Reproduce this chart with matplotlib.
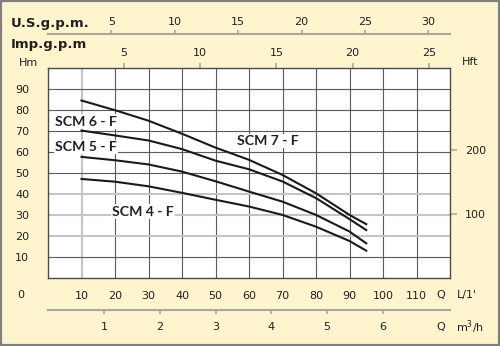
import matplotlib

matplotlib.use("Agg")
import matplotlib.pyplot as plt
from matplotlib.patches import Rectangle

# flow Q in L/min and head H in m
Q = [10, 20, 30, 40, 50, 60, 70, 80, 90, 95]
H_SCM7 = [84.4, 79.8, 74.8, 68.6, 62.0, 56.2, 49.0, 40.3, 30.0, 25.6]
H_SCM6 = [70.1, 67.8, 65.4, 61.3, 55.8, 51.7, 45.9, 38.0, 28.0, 22.8]
H_SCM5 = [57.6, 56.0, 54.0, 50.6, 46.0, 41.1, 36.3, 30.0, 22.1, 16.5]
H_SCM4 = [47.1, 45.8, 43.6, 40.5, 37.2, 34.0, 30.0, 24.4, 17.6, 13.0]

CURVES = [H_SCM7, H_SCM6, H_SCM5, H_SCM4]
LABELS = ["SCM 7 - F", "SCM 6 - F", "SCM 5 - F", "SCM 4 - F"]
LABEL_POS = [(56.3, 65.2), (2.1, 74.4), (2.2, 62.2), (19.0, 31.6)]

X_GRID = [10, 20, 30, 40, 50, 60, 70, 80, 90, 100, 110]
Y_GRID = [10, 20, 30, 40, 50, 60, 70, 80, 90]
LIGHT_X = [10]
LIGHT_Y = [20, 30, 40]

US_GPM = [5, 10, 15, 20, 25, 30]
IMP_GPM = [5, 10, 15, 20, 25]
M3H = [1, 2, 3, 4, 5, 6]
HFT = [100, 200]

BG = "#fef5cf"
INK = "#231f20"
NUM = dict(family=["Liberation Sans Narrow", "DejaVu Sans"], fontsize=8, color=INK)
HEAD = dict(family="DejaVu Sans", fontweight="bold", fontsize=9.5, color=INK)

fig = plt.figure(figsize=(5, 3.46), dpi=100, facecolor=BG)
fig.patches.append(Rectangle((0.002, 0.003), 0.995, 0.993, transform=fig.transFigure,
                             fill=False, edgecolor="#808080", linewidth=1.6))
ax = fig.add_axes([0.096, 0.1965, 0.804, 0.6078])
ax.set_facecolor("white")
ax.set_xlim(0, 120)
ax.set_ylim(0, 100)

for xv in X_GRID:
    light = xv in LIGHT_X
    ax.axvline(xv, color="#c4c4c4" if light else "#5a5a5a", lw=1.5 if light else 0.8, zorder=1)
for yv in Y_GRID:
    light = yv in LIGHT_Y
    ax.axhline(yv, color="#c4c4c4" if light else "#5a5a5a", lw=1.5 if light else 0.8, zorder=1)

for h in CURVES:
    ax.plot(Q, h, color="#1a1a1a", lw=1.5, zorder=3)
for txt, (lx, ly) in zip(LABELS, LABEL_POS):
    ax.text(lx, ly, txt, ha="left", va="center", zorder=4, fontsize=10.2,
            fontweight="bold", color=INK, family=["Lato", "DejaVu Sans"],
            bbox=dict(facecolor="white", edgecolor="none", pad=0.8))

for s in ax.spines.values():
    s.set_color("#4a4a4a")
    s.set_linewidth(1.0)

# left Hm and bottom L/min labels
ax.set_yticks(Y_GRID)
ax.set_yticklabels([str(v) for v in Y_GRID], ha="center", **NUM)
ax.tick_params(axis="y", length=0, pad=18.5)
ax.set_xticks(X_GRID)
ax.set_xticklabels([str(v) for v in X_GRID], **NUM)
ax.tick_params(axis="x", length=0, pad=9)
ax.text(-0.069, -0.081, "0", transform=ax.transAxes, ha="center", va="center", **NUM)
ax.text(0.978, -0.081, "Q", transform=ax.transAxes, ha="center", va="center", **NUM)
ax.text(1.017, -0.081, "L/1'", transform=ax.transAxes, ha="left", va="center", **NUM)

# top: U.S. gallons per minute
lpm_us = 3.785
top = ax.secondary_xaxis(1.162, functions=(lambda x: x / lpm_us, lambda x: x * lpm_us))
top.set_xticks(US_GPM)
top.set_xticklabels([str(v) for v in US_GPM], **NUM)
top.tick_params(axis="x", length=3, width=1.2, color="#a8a8a0", pad=1.5)
top.spines["top"].set_color("#a8a8a0")
top.spines["top"].set_linewidth(1.5)
fig.text(0.022, 0.933, "U.S.g.p.m.", ha="left", va="center", **HEAD)

# Imp. gallons per minute
lpm_imp = 4.546
imp = ax.secondary_xaxis("top", functions=(lambda x: x / lpm_imp, lambda x: x * lpm_imp))
imp.set_xticks(IMP_GPM)
imp.set_xticklabels([str(v) for v in IMP_GPM], **NUM)
imp.tick_params(axis="x", length=3.5, width=1.2, color="#a8a8a0", pad=3.5)
imp.spines["top"].set_visible(False)
fig.text(0.022, 0.870, "Imp.g.p.m", ha="left", va="center", **HEAD)
fig.text(0.056, 0.818, "Hm", ha="center", va="center", **NUM)

# bottom: m3/h
m3 = ax.secondary_xaxis(-0.152, functions=(lambda x: x * 0.06, lambda x: x / 0.06))
m3.set_xticks(M3H)
m3.set_xticklabels([str(v) for v in M3H], **NUM)
m3.tick_params(axis="x", length=3, width=1.2, color="#a8a8a0", pad=6)
m3.spines["bottom"].set_color("#a8a8a0")
m3.spines["bottom"].set_linewidth(1.5)
ax.text(0.978, -0.233, "Q", transform=ax.transAxes, ha="center", va="center", **NUM)
ax.text(1.015, -0.233, "m$^3$/h", transform=ax.transAxes, ha="left", va="center", **NUM)

# right: head in feet
ft_m = 0.3048
rgt = ax.secondary_yaxis("right", functions=(lambda y: y / ft_m, lambda y: y * ft_m))
rgt.set_yticks(HFT)
rgt.set_yticklabels([str(v) for v in HFT], **NUM)
rgt.tick_params(axis="y", length=5, width=1.4, color="#b8b8b0", pad=6)
rgt.spines["right"].set_visible(False)
fig.text(0.94, 0.821, "Hft", ha="center", va="center", **NUM)

fig.savefig("out.png", dpi=100, facecolor=BG)
